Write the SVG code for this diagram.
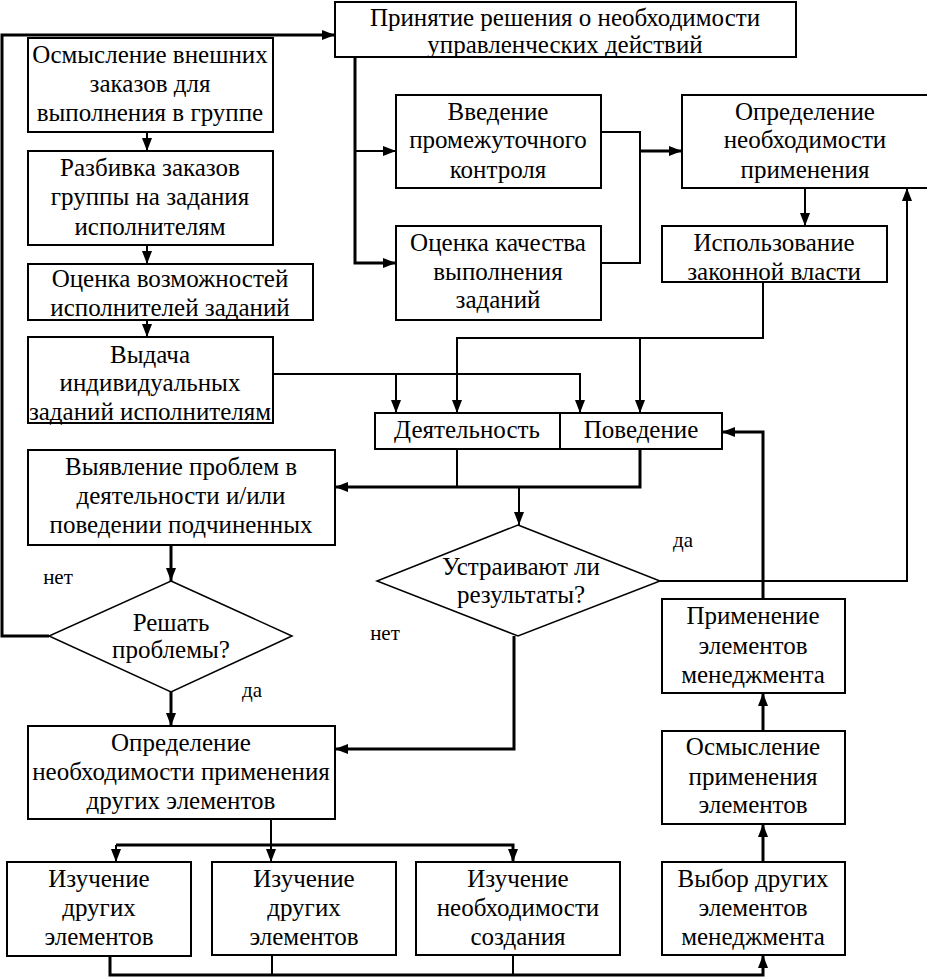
<svg xmlns="http://www.w3.org/2000/svg" width="927" height="977" viewBox="0 0 927 977">
<defs>
<marker id="ah" markerUnits="userSpaceOnUse" markerWidth="14" markerHeight="12" refX="13" refY="5" orient="auto">
<path d="M0,0 L13,5 L0,10 z" fill="#000"/>
</marker>
<style>
.box{fill:#fff;stroke:#000;stroke-width:2}
.dia{fill:#fff;stroke:#000;stroke-width:1.5}
.t{font-family:'Liberation Serif','Times New Roman',serif;font-size:25px;fill:#000;text-anchor:middle}
.lbl{font-size:21px}
#connectors path{fill:none;stroke:#000;stroke-width:2}
#connectors .thick{stroke-width:3}
</style>
</defs>
<g id="connectors">
<path d="M49,636 H2 V35 H335" class="thick" marker-end="url(#ah)"/>
<path d="M147,132 V151" marker-end="url(#ah)"/>
<path d="M147,245 V264" marker-end="url(#ah)"/>
<path d="M147,320 V337" marker-end="url(#ah)"/>
<path d="M355,57 V263 H396" class="thick" marker-end="url(#ah)"/>
<path d="M355,151 H396" marker-end="url(#ah)"/>
<path d="M601,132 H640 V263 H601"/>
<path d="M640,151 H682" class="thick" marker-end="url(#ah)"/>
<path d="M805,188 V226" marker-end="url(#ah)"/>
<path d="M763,282 V338 H457 V413" marker-end="url(#ah)"/>
<path d="M640,338 V413" marker-end="url(#ah)"/>
<path d="M273,374 H580 V413" marker-end="url(#ah)"/>
<path d="M396,374 V413" marker-end="url(#ah)"/>
<path d="M457,449 V487"/>
<path d="M640,449 V487 H335" class="thick" marker-end="url(#ah)"/>
<path d="M519,487 V525" marker-end="url(#ah)"/>
<path d="M171,545 V581" class="thick" marker-end="url(#ah)"/>
<path d="M660,581 H907 V188" marker-end="url(#ah)"/>
<path d="M514,636 V749 H335" class="thick" marker-end="url(#ah)"/>
<path d="M171,692 V726" class="thick" marker-end="url(#ah)"/>
<path d="M763,599 V432 H722" class="thick" marker-end="url(#ah)"/>
<path d="M763,731 V693" class="thick" marker-end="url(#ah)"/>
<path d="M763,862 V824" class="thick" marker-end="url(#ah)"/>
<path d="M271,819 V845"/>
<path d="M116,845 V862" marker-end="url(#ah)"/>
<path d="M116,845 H513 V862" class="thick" marker-end="url(#ah)"/>
<path d="M271,845 V862" marker-end="url(#ah)"/>
<path d="M110,955 V975 H763 V955" class="thick" marker-end="url(#ah)"/>
<path d="M272,955 V975"/>
<path d="M513,955 V975"/>
</g>
<g id="n-top"><rect class="box" x="335" y="2" width="461" height="55"/><text class="t" x="565" y="26">Принятие решения о необходимости</text><text class="t" x="565" y="53">управленческих действий</text></g>
<g id="n1"><rect class="box" x="28" y="38" width="245" height="94"/><text class="t" x="150" y="63">Осмысление внешних</text><text class="t" x="150" y="92">заказов для</text><text class="t" x="150" y="121">выполнения в группе</text></g>
<g id="n2"><rect class="box" x="28" y="151" width="245" height="94"/><text class="t" x="150" y="176">Разбивка заказов</text><text class="t" x="150" y="205">группы на задания</text><text class="t" x="150" y="235">исполнителям</text></g>
<g id="n3"><rect class="box" x="28" y="264" width="285" height="56"/><text class="t" x="170" y="287">Оценка возможностей</text><text class="t" x="170" y="316">исполнителей заданий</text></g>
<g id="n4"><rect class="box" x="28" y="337" width="245" height="86"/><text class="t" x="150" y="363">Выдача</text><text class="t" x="150" y="391">индивидуальных</text><text class="t" x="150" y="420">заданий исполнителям</text></g>
<g id="n-vved"><rect class="box" x="396" y="95" width="205" height="93"/><text class="t" x="498" y="120">Введение</text><text class="t" x="498" y="148">промежуточного</text><text class="t" x="498" y="178">контроля</text></g>
<g id="n-ocen"><rect class="box" x="396" y="226" width="205" height="94"/><text class="t" x="498" y="251">Оценка качества</text><text class="t" x="498" y="280">выполнения</text><text class="t" x="498" y="308">заданий</text></g>
<g id="n-opr"><rect class="box" x="682" y="95" width="246" height="93"/><text class="t" x="805" y="120">Определение</text><text class="t" x="805" y="148">необходимости</text><text class="t" x="805" y="178">применения</text></g>
<g id="n-isp"><rect class="box" x="662" y="226" width="225" height="56"/><text class="t" x="774" y="251">Использование</text><text class="t" x="774" y="280">законной власти</text></g>
<g id="n-dp"><rect class="box" x="375" y="413" width="347" height="36"/><path d="M560,413 V449" stroke="#000" stroke-width="2"/><text class="t" x="467" y="438">Деятельность</text><text class="t" x="641" y="438">Поведение</text></g>
<g id="n-vyy"><rect class="box" x="28" y="450" width="307" height="95"/><text class="t" x="181" y="475">Выявление проблем в</text><text class="t" x="181" y="504">деятельности и/или</text><text class="t" x="181" y="533">поведении подчиненных</text></g>
<g id="n-resh"><polygon class="dia" points="171,581 292,636 171,692 49,636"/><text class="t" x="171" y="631">Решать</text><text class="t" x="171" y="658">проблемы?</text></g>
<g id="n-ustr"><polygon class="dia" points="518,525 660,581 518,636 377,581"/><text class="t" x="521" y="575">Устраивают ли</text><text class="t" x="521" y="603">результаты?</text></g>
<g id="n-prim"><rect class="box" x="662" y="599" width="183" height="94"/><text class="t" x="753" y="624">Применение</text><text class="t" x="753" y="654">элементов</text><text class="t" x="753" y="683">менеджмента</text></g>
<g id="n-osm"><rect class="box" x="662" y="731" width="183" height="93"/><text class="t" x="753" y="755">Осмысление</text><text class="t" x="753" y="785">применения</text><text class="t" x="753" y="813">элементов</text></g>
<g id="n-vyb"><rect class="box" x="662" y="862" width="183" height="93"/><text class="t" x="753" y="887">Выбор других</text><text class="t" x="753" y="916">элементов</text><text class="t" x="753" y="945">менеджмента</text></g>
<g id="n-oprd"><rect class="box" x="28" y="726" width="307" height="93"/><text class="t" x="181" y="751">Определение</text><text class="t" x="181" y="780">необходимости применения</text><text class="t" x="181" y="809">других элементов</text></g>
<g id="n-iz1"><rect class="box" x="7" y="862" width="184" height="94"/><text class="t" x="99" y="887">Изучение</text><text class="t" x="99" y="916">других</text><text class="t" x="99" y="945">элементов</text></g>
<g id="n-iz2"><rect class="box" x="212" y="862" width="184" height="93"/><text class="t" x="304" y="887">Изучение</text><text class="t" x="304" y="916">других</text><text class="t" x="304" y="945">элементов</text></g>
<g id="n-iz3"><rect class="box" x="416" y="862" width="204" height="93"/><text class="t" x="518" y="887">Изучение</text><text class="t" x="518" y="916">необходимости</text><text class="t" x="518" y="945">создания</text></g>
<g id="labels">
<text class="t lbl" x="58" y="584">нет</text>
<text class="t lbl" x="252" y="697">да</text>
<text class="t lbl" x="683" y="547">да</text>
<text class="t lbl" x="385" y="640">нет</text>
</g>
</svg>
